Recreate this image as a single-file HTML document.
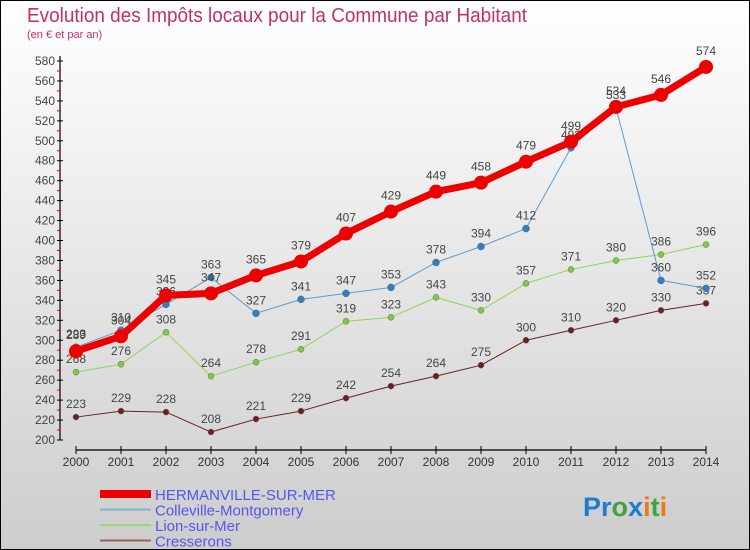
<!DOCTYPE html>
<html><head><meta charset="utf-8"><style>
body{margin:0}
#c{width:750px;height:550px;position:relative;overflow:hidden;font-family:"Liberation Sans",sans-serif}
</style></head><body>
<div id="c">
<svg id="s" width="750" height="550" xmlns="http://www.w3.org/2000/svg">
<defs><linearGradient id="bg" x1="0" y1="0" x2="0" y2="1"><stop offset="0" stop-color="#ffffff"/><stop offset="1" stop-color="#cdcdcd"/></linearGradient></defs>
<rect x="0.5" y="0.5" width="749" height="549" fill="url(#bg)" stroke="#000"/>
<text x="27" y="22" font-size="20" fill="#c0306a" textLength="500" lengthAdjust="spacingAndGlyphs">Evolution des Impôts locaux pour la Commune par Habitant</text>
<text x="27" y="38" font-size="11" fill="#c0306a">(en € et par an)</text>
<g id="axes"></g>
<g id="series"></g>
<g id="legend"></g>
<text x="583" y="516" font-size="27" font-weight="bold"><tspan fill="#1e7bd0">Pr</tspan><tspan fill="#3aa53a">o</tspan><tspan fill="#1e7bd0">x</tspan><tspan fill="#f07a10">i</tspan><tspan fill="#3aa53a">t</tspan><tspan fill="#f07a10">i</tspan></text>
</svg>
</div>
<script>
const years=[2000,2001,2002,2003,2004,2005,2006,2007,2008,2009,2010,2011,2012,2013,2014];
const hermanville=[289,304,345,347,365,379,407,429,449,458,479,499,534,546,574];
const colleville=[293,310,336,363,327,341,347,353,378,394,412,493,533,360,352];
const lion=[268,276,308,264,278,291,319,323,343,330,357,371,380,386,396];
const cresserons=[223,229,228,208,221,229,242,254,264,275,300,310,320,330,337];
const yTicks=[200,220,240,260,280,300,320,340,360,380,400,420,440,460,480,500,520,540,560,580];
const seriesNames=["HERMANVILLE-SUR-MER","Colleville-Montgomery","Lion-sur-Mer","Cresserons"];

const NS="http://www.w3.org/2000/svg";
function X(i){return 76+i*(706-76)/(years.length-1);}
function Y(v){return 440-(v-200)*(379/380);}
function mk(tag,attrs,parent){const e=document.createElementNS(NS,tag);for(const k in attrs)e.setAttribute(k,attrs[k]);parent.appendChild(e);return e;}
const axes=document.getElementById('axes');
let yl=mk('line',{x1:60,y1:56,x2:60,y2:440,stroke:'#000','stroke-width':1.2},axes);


yTicks.forEach((t,i)=>{
  const l=mk('line',{x1:57,y1:Y(t),x2:63,y2:Y(t),stroke:'#000'},axes);
  
  
  if(i<yTicks.length-1){const r=mk('line',{x1:57,y1:Y(t+10),x2:61,y2:Y(t+10),stroke:'#e00'},axes);
    
    }
  const tx=mk('text',{x:55,y:Y(t)+4,'font-size':12,fill:'#444','text-anchor':'end'},axes);
  tx.textContent=t;
  
  
});
let xl=mk('line',{x1:76,y1:450,x2:706,y2:450,stroke:'#000','stroke-width':1.2},axes);


years.forEach((y,i)=>{
  const l=mk('line',{x1:X(i),y1:446,x2:X(i),y2:454,stroke:'#000'},axes);
  
  
  const tx=mk('text',{x:X(i),y:466,'font-size':12,fill:'#333','text-anchor':'middle'},axes);
  tx.textContent=y;
  
  
});
const sg=document.getElementById('series');
const defs=[
 {d:cresserons,c:'#6b1f22',w:1,r:3,n:'cresserons'},
 {d:lion,c:'#8fd45a',w:1,r:3,n:'lion-sur-mer'},
 {d:colleville,c:'#5b9bd0',w:1,r:3.5,n:'colleville-montgomery'},
 {d:hermanville,c:'#ee0000',w:7,r:7,n:'hermanville-sur-mer'}];
defs.forEach((s,k)=>{
  const g=mk('g',{},sg);
  
  
  const p=mk('polyline',{points:s.d.map((v,i)=>X(i)+','+Y(v)).join(' '),fill:'none',stroke:s.c,'stroke-width':s.w,'stroke-linejoin':'round'},g);
  
  
  s.d.forEach((v,i)=>{
    const c=mk('circle',{cx:X(i),cy:Y(v),r:s.r,fill:s.c==='#5b9bd0'?'#2f7fc4':(s.c==='#8fd45a'?'#7ccc3c':s.c),stroke:'#666','stroke-width':k===3?0:0.5},g);
    
    
    const t=mk('text',{x:X(i),y:Y(v)-9-(k===3?3:0),'font-size':12,fill:'#444','text-anchor':'middle'},g);
    t.textContent=v;
    
    
  });
});
const lg=document.getElementById('legend');
const lc=['#ee0000','#7fb0d8','#9ad870','#9a6060'];
const lw=[8,2,2,2];
seriesNames.forEach((n,i)=>{
  const yy=494+i*15.5;
  const l=mk('line',{x1:100,y1:yy,x2:151,y2:yy,stroke:lc[i],'stroke-width':lw[i]},lg);
  
  
  const t=mk('text',{x:155,y:yy+6,'font-size':15,fill:'#5555ee'},lg);
  t.textContent=n;
  
  
});
</script>
</body></html>
